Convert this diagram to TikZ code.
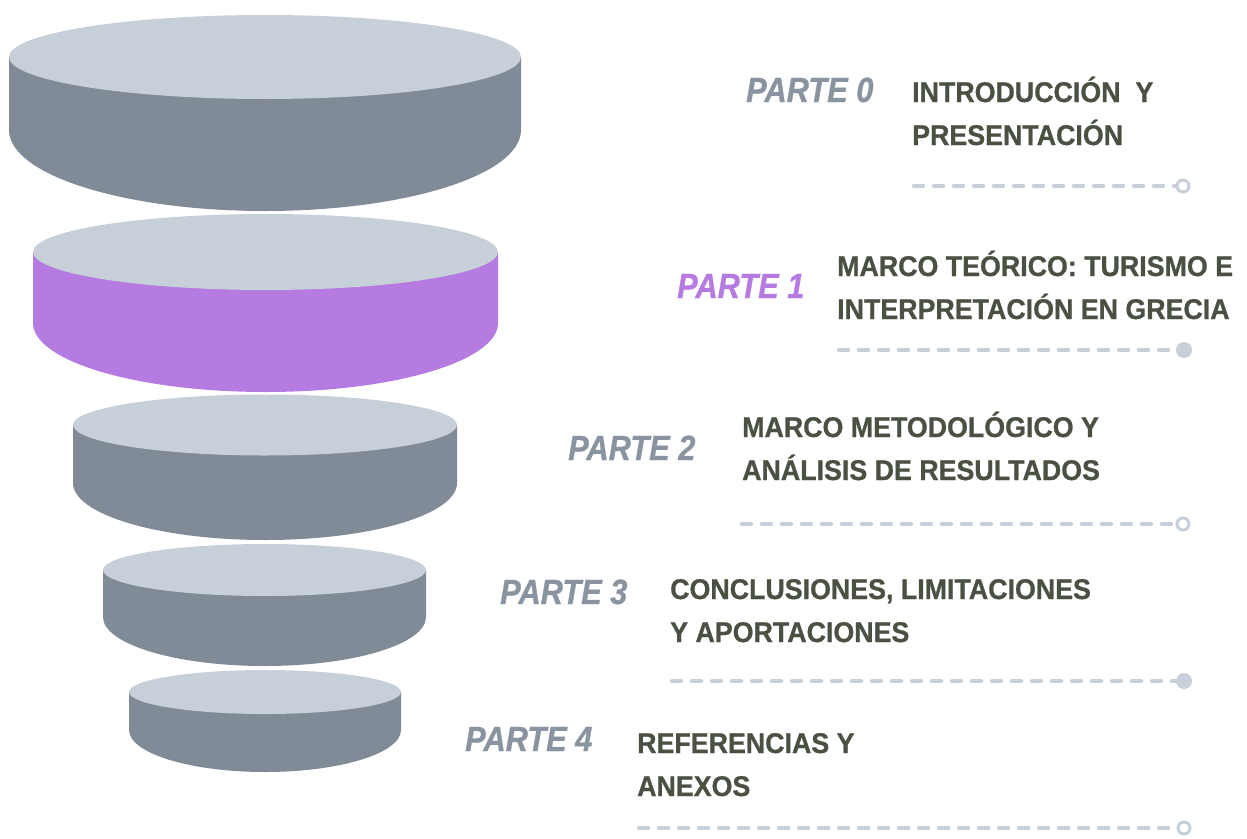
\documentclass[tikz,border=0pt]{standalone}
\usepackage{fontspec}
\setmainfont{Liberation Sans}
\newfontfamily\titulofont[FakeStretch=0.94, FakeBold=0.8]{Liberation Sans}
\newfontfamily\partefont[FakeStretch=0.88, FakeBold=0.8]{Liberation Sans}

\definecolor{tapa}{HTML}{C7CFD8}
\definecolor{lado}{HTML}{818B97}
\definecolor{lila}{HTML}{B57BE0}
\definecolor{texto}{HTML}{4A5143}
\definecolor{gris}{HTML}{8A93A0}

% Disco: cx, rx, y arriba, ry arriba, y borde, ry abajo, color.
\newcommand{\disco}[7]{%
  \fill[#7] ({#1-#2}, #3) -- ({#1-#2}, #5)
    arc[start angle=180, end angle=0, x radius=#2, y radius=#6]
    -- ({#1+#2}, #3) -- cycle;
  \fill[tapa] (#1, #3) ellipse [x radius=#2, y radius=#4];
}

\begin{document}
\begin{tikzpicture}[x=1pt, y=-1pt]
  \useasboundingbox (0, 0) rectangle (1247, 838);

  % Embudo.
  \disco{265}{256}{57}{42}{130}{81}{lado}
  \disco{265.5}{232.5}{252}{38}{323}{69}{lila}
  \disco{265}{192}{425}{30.5}{483}{57}{lado}
  \disco{264.5}{161.5}{570}{26}{617}{49}{lado}
  \disco{265}{136}{692}{22}{730}{42}{lado}

  % Textos (base = ultima linea).
  \tikzstyle{parte}=[anchor=base west, inner sep=0pt, text=gris, font=\partefont\fontsize{35}{40}\selectfont\bfseries\itshape]
  \tikzstyle{titulo}=[anchor=base west, inner sep=0pt, align=left, text=texto, font=\titulofont\fontsize{28.5}{43}\selectfont\bfseries]

  \node[parte] (p0) at (746, 102) {PARTE 0};
  \node[parte, text=lila] (p1) at (677, 298) {PARTE 1};
  \node[parte] (p2) at (568, 460) {PARTE 2};
  \node[parte] (p3) at (500, 604) {PARTE 3};
  \node[parte] (p4) at (465, 751) {PARTE 4};

  \node[titulo] (t0) at (912, 145) {INTRODUCCIÓN\ \ Y\\PRESENTACIÓN};
  \node[titulo] (t1) at (837, 319) {MARCO TEÓRICO: TURISMO E\\INTERPRETACIÓN EN GRECIA};
  \node[titulo] (t2) at (742, 480) {MARCO METODOLÓGICO Y\\ANÁLISIS DE RESULTADOS};
  \node[titulo] (t3) at (670, 642) {CONCLUSIONES, LIMITACIONES\\Y APORTACIONES};
  \node[titulo] (t4) at (637, 796) {REFERENCIAS Y\\ANEXOS};

  % Lineas.
  \tikzstyle{linea}=[draw=tapa, line width=4.5pt, line cap=round, dash pattern=on 9pt off 11pt]
  \tikzstyle{hueco}=[circle, draw=tapa, line width=3pt, fill=white, minimum size=12pt, inner sep=0pt]
  \tikzstyle{lleno}=[circle, fill=tapa, minimum size=16pt, inner sep=0pt]

  \coordinate (a0) at (914, 186);
  \coordinate (a1) at (839, 350);
  \coordinate (a2) at (742, 524);
  \coordinate (a3) at (672, 681);
  \coordinate (a4) at (639, 828);

  \node[hueco] (f0) at (1183, 186) {};
  \node[lleno] (f1) at (1184, 350) {};
  \node[hueco] (f2) at (1183, 524) {};
  \node[lleno] (f3) at (1184, 681) {};
  \node[hueco] (f4) at (1184, 828) {};

  \path[linea] (a0) -- (f0);
  \path[linea] (a1) -- (f1);
  \path[linea] (a2) -- (f2);
  \path[linea] (a3) -- (f3);
  \path[linea] (a4) -- (f4);
\end{tikzpicture}
\end{document}
